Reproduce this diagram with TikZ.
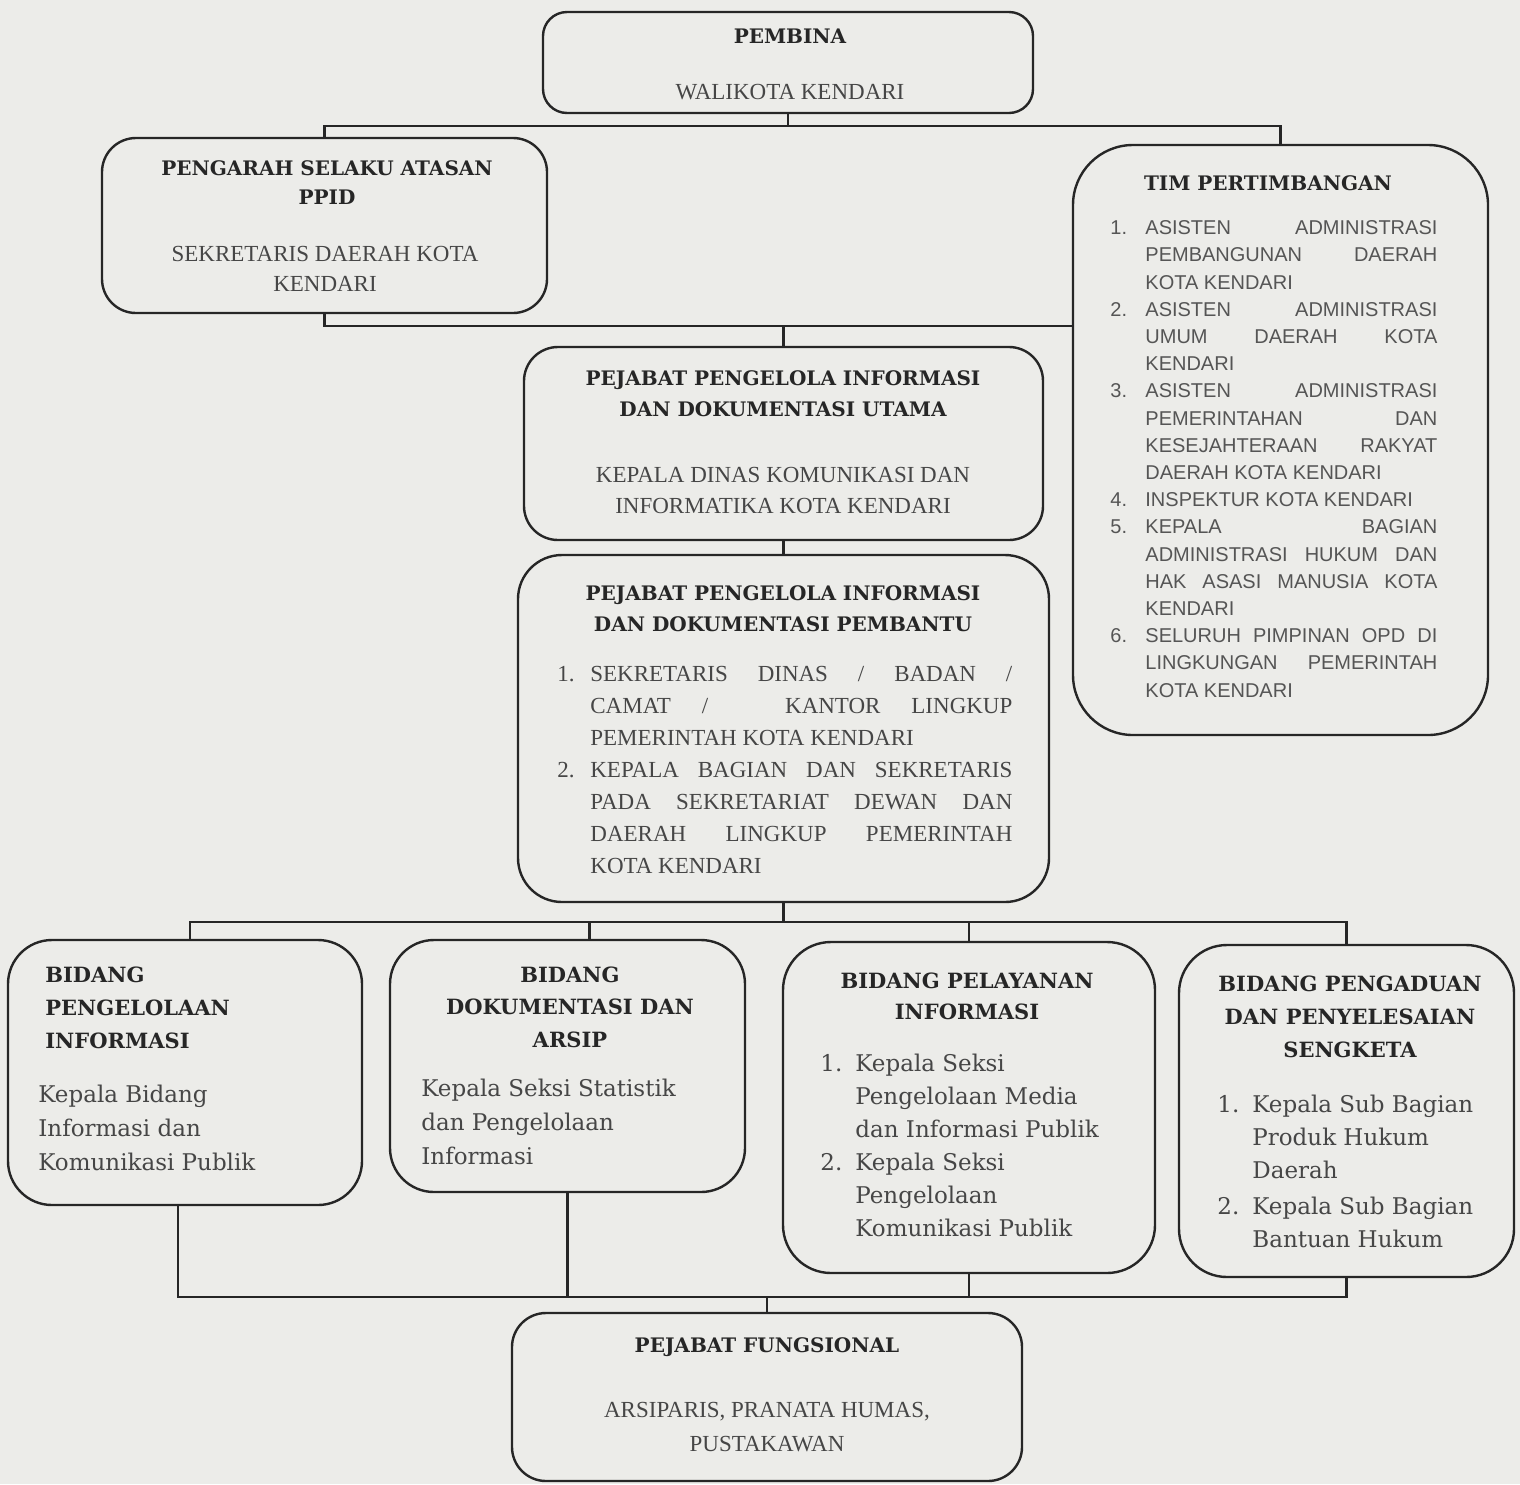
\documentclass[tikz,border=0pt]{standalone}
\usepackage{fontspec}
\setmainfont{Liberation Serif}
\newfontfamily\bkfont{DejaVu Serif}
\newfontfamily\lsfont{Liberation Sans}
\definecolor{bg}{RGB}{236,236,233}
\definecolor{ink}{RGB}{38,38,38}
\definecolor{inkl}{RGB}{70,70,70}
\definecolor{inkg}{RGB}{85,85,85}
\newcommand{\jl}[2]{\makebox[#1][s]{#2}}
\newcommand{\nm}[2]{\makebox[#1][l]{#2}}
\begin{document}
\begin{tikzpicture}[x=0.5pt,y=-0.5pt,
  box/.style={draw=ink, line width=1.2pt, rounded corners=#1, inner sep=0pt},
  box/.default=14pt,
  conn/.style={draw=ink, line width=1.1pt},
  ttl/.style={font=\bkfont\bfseries\fontsize{10}{15.5}\selectfont, align=center, inner sep=0pt, text=ink},
  ttll/.style={font=\bkfont\bfseries\fontsize{10.5}{16.5}\selectfont, align=left, inner sep=0pt, text=ink},
  bd/.style={font=\fontsize{11.5}{15.5}\selectfont, align=center, inner sep=0pt, text=inkl},
  lst/.style={font=\fontsize{11.5}{16}\selectfont, align=left, inner sep=0pt, text=inkl},
  tlst/.style={font=\lsfont\fontsize{10}{13.6}\selectfont, align=left, inner sep=0pt, text=inkg},
  bk/.style={font=\bkfont\fontsize{11.5}{17}\selectfont, align=left, inner sep=0pt, text=inkl}
]
\fill[bg] (0,0) rectangle (1520,1484);
\useasboundingbox (0,0) rectangle (1520,1484);

% boxes
\node[box=12pt, minimum width=245pt, minimum height=50.5pt] (pembina) at (788,62.5) {};
\node[box=17pt, minimum width=222.5pt, minimum height=87.5pt] (pengarah) at (324.5,225.5) {};
\node[box=30pt, minimum width=207.5pt, minimum height=295pt] (tim) at (1280.5,440) {};
\node[box=17pt, minimum width=259.5pt, minimum height=96.5pt] (utama) at (783.5,443.5) {};
\node[box=22pt, minimum width=265.5pt, minimum height=173.5pt] (pembantu) at (783.5,728.5) {};
\node[box=22pt, minimum width=177pt, minimum height=132.5pt] (b1) at (185,1072.5) {};
\node[box=22pt, minimum width=177.5pt, minimum height=126pt] (b2) at (567.5,1066) {};
\node[box=24pt, minimum width=186pt, minimum height=165.5pt] (b3) at (969,1107.5) {};
\node[box=24pt, minimum width=167.5pt, minimum height=166pt] (b4) at (1346.5,1111) {};
\node[box=17pt, minimum width=255pt, minimum height=84pt] (fung) at (767,1397) {};

% connectors
\path (pembina.south) ++(0,12) coordinate (j1);
\path (utama.north) ++(0,-19.5) coordinate (j2);
\path (pembantu.south) ++(0,18.5) coordinate (j3);
\path (fung.north) ++(0,-15) coordinate (j4);
\draw[conn] (pembina.south) -- (j1);
\draw[conn] (pengarah.north) |- (j1) -| (tim.north);
\draw[conn] (pengarah.south) |- (j2) -- (j2 -| tim.west);
\draw[conn] (j2) -- (utama.north);
\draw[conn] (utama.south) -- (pembantu.north);
\draw[conn] (pembantu.south) -- (j3);
\draw[conn] ([xshift=2.5pt]b1.north) |- (j3) -| (b4.north);
\draw[conn] ([xshift=11pt]b2.north) -- ([xshift=11pt]b2.north |- j3);
\draw[conn] (b3.north) -- (b3.north |- j3);
\draw[conn] ([xshift=-3.5pt]b1.south) |- (j4) -| (b4.south);
\draw[conn] (b2.south) -- (b2.south |- j4);
\draw[conn] (b3.south) -- (b3.south |- j4);
\draw[conn] (j4) -- (fung.north);

% texts (anchor=base is the baseline of the last line)
\node[ttl, anchor=base] (tpembina) at (790,43) {PEMBINA};
\node[bd, anchor=base] (bpembina) at (790,99) {WALIKOTA KENDARI};

\node[ttl, anchor=base, font=\bkfont\bfseries\fontsize{10}{14.5}\selectfont] (tpengarah) at (327,204) {PENGARAH SELAKU ATASAN\\PPID};
\node[bd, anchor=base, font=\fontsize{11.5}{15}\selectfont] (bpengarah) at (325,291) {SEKRETARIS DAERAH KOTA\\KENDARI};

\node[ttl, anchor=base] (tutama) at (783,416) {PEJABAT PENGELOLA INFORMASI\\DAN DOKUMENTASI UTAMA};
\node[bd, anchor=base] (butama) at (783,513) {KEPALA DINAS KOMUNIKASI DAN\\INFORMATIKA KOTA KENDARI};

\node[ttl, anchor=base] (tpembantu) at (783,631) {PEJABAT PENGELOLA INFORMASI\\DAN DOKUMENTASI PEMBANTU};
\node[lst, anchor=base west] (lpembantu) at (557,873) {%
\nm{16.5pt}{1.}\jl{211pt}{SEKRETARIS DINAS / BADAN /}\\
\hspace*{16.5pt}\jl{211pt}{CAMAT /\hspace{2em} KANTOR LINGKUP}\\
\hspace*{16.5pt}PEMERINTAH KOTA KENDARI\\
\nm{16.5pt}{2.}\jl{211pt}{KEPALA BAGIAN DAN SEKRETARIS}\\
\hspace*{16.5pt}\jl{211pt}{PADA SEKRETARIAT DEWAN DAN}\\
\hspace*{16.5pt}\jl{211pt}{DAERAH LINGKUP PEMERINTAH}\\
\hspace*{16.5pt}KOTA KENDARI};

\node[ttl, anchor=base] (ttim) at (1268,190) {TIM PERTIMBANGAN};
\node[tlst, anchor=base west] (ltim) at (1110,697) {%
\nm{17.5pt}{1.}\jl{146pt}{ASISTEN ADMINISTRASI}\\
\hspace*{17.5pt}\jl{146pt}{PEMBANGUNAN DAERAH}\\
\hspace*{17.5pt}KOTA KENDARI\\
\nm{17.5pt}{2.}\jl{146pt}{ASISTEN ADMINISTRASI}\\
\hspace*{17.5pt}\jl{146pt}{UMUM DAERAH KOTA}\\
\hspace*{17.5pt}KENDARI\\
\nm{17.5pt}{3.}\jl{146pt}{ASISTEN ADMINISTRASI}\\
\hspace*{17.5pt}\jl{146pt}{PEMERINTAHAN DAN}\\
\hspace*{17.5pt}\jl{146pt}{KESEJAHTERAAN RAKYAT}\\
\hspace*{17.5pt}DAERAH KOTA KENDARI\\
\nm{17.5pt}{4.}INSPEKTUR KOTA KENDARI\\
\nm{17.5pt}{5.}\jl{146pt}{KEPALA BAGIAN}\\
\hspace*{17.5pt}\jl{146pt}{ADMINISTRASI HUKUM DAN}\\
\hspace*{17.5pt}\jl{146pt}{HAK ASASI MANUSIA KOTA}\\
\hspace*{17.5pt}KENDARI\\
\nm{17.5pt}{6.}\jl{146pt}{SELURUH PIMPINAN OPD DI}\\
\hspace*{17.5pt}\jl{146pt}{LINGKUNGAN PEMERINTAH}\\
\hspace*{17.5pt}KOTA KENDARI};

\node[ttll, anchor=base west] (tb1) at (45,1048) {BIDANG\\PENGELOLAAN\\INFORMASI};
\node[bk, anchor=base west] (bb1) at (38,1170) {Kepala Bidang\\Informasi dan\\Komunikasi Publik};

\node[ttll, anchor=base, align=center, font=\bkfont\bfseries\fontsize{10.5}{16.25}\selectfont] (tb2) at (570,1047) {BIDANG\\DOKUMENTASI DAN\\ARSIP};
\node[bk, anchor=base west] (bb2) at (421,1164) {Kepala Seksi Statistik\\dan Pengelolaan\\Informasi};

\node[ttll, anchor=base, align=center, font=\bkfont\bfseries\fontsize{10.5}{15.5}\selectfont] (tb3) at (967,1019) {BIDANG PELAYANAN\\INFORMASI};
\node[bk, anchor=base west, font=\bkfont\fontsize{11.5}{16.5}\selectfont] (lb3) at (820,1236) {%
\nm{17.5pt}{1.}Kepala Seksi\\
\hspace*{17.5pt}Pengelolaan Media\\
\hspace*{17.5pt}dan Informasi Publik\\
\nm{17.5pt}{2.}Kepala Seksi\\
\hspace*{17.5pt}Pengelolaan\\
\hspace*{17.5pt}Komunikasi Publik};

\node[ttll, anchor=base, align=center] (tb4) at (1350,1057) {BIDANG PENGADUAN\\DAN PENYELESAIAN\\SENGKETA};
\node[bk, anchor=base west, font=\bkfont\fontsize{11.5}{16.5}\selectfont] (lb4) at (1217,1247) {%
\nm{17.5pt}{1.}Kepala Sub Bagian\\
\hspace*{17.5pt}Produk Hukum\\
\hspace*{17.5pt}Daerah\\[1.5pt]
\nm{17.5pt}{2.}Kepala Sub Bagian\\
\hspace*{17.5pt}Bantuan Hukum};

\node[ttl, anchor=base] (tfung) at (767,1352) {PEJABAT FUNGSIONAL};
\node[bd, anchor=base, font=\fontsize{11.5}{17}\selectfont] (bfung) at (767,1451) {ARSIPARIS, PRANATA HUMAS,\\PUSTAKAWAN};
\end{tikzpicture}
\end{document}
